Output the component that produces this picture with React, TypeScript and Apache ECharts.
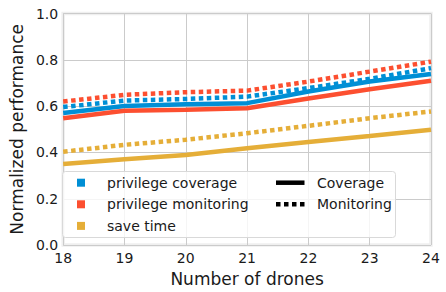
import React, { useEffect, useRef } from "react";
import * as echarts from "echarts";

const drones = [18, 19, 20, 21, 22, 23, 24];
const yTicks = [0, 0.2, 0.4, 0.6, 0.8, 1.0];
const categoryNames = ["privilege coverage", "privilege monitoring", "save time"];
const styleNames = ["Coverage", "Monitoring"];
const coveragePrivCov = [0.570, 0.601, 0.608, 0.613, 0.663, 0.706, 0.739];
const coveragePrivMon = [0.548, 0.580, 0.584, 0.591, 0.633, 0.673, 0.710];
const coverageSaveTime = [0.350, 0.371, 0.389, 0.418, 0.445, 0.471, 0.498];
const monitoringPrivCov = [0.596, 0.624, 0.631, 0.641, 0.678, 0.718, 0.764];
const monitoringPrivMon = [0.620, 0.649, 0.660, 0.667, 0.706, 0.749, 0.792];
const monitoringSaveTime = [0.403, 0.433, 0.455, 0.483, 0.515, 0.548, 0.577];

const COLORS = ["#008fd5", "#fc4f30", "#e5ae38"];
const FONT = "DejaVu Sans";
const TXT = "#1a1a1a";
const DOT: number[] = [4.5, 3.5];
const LW = 4.5;
const DOTTED_ICON =
  "path://M0,0h4.5v4.5h-4.5z M8,0h4.5v4.5h-4.5z M16,0h4.5v4.5h-4.5z M24,0h4.5v4.5h-4.5z";

export default function App() {
  const ref = useRef<HTMLDivElement>(null);
  useEffect(() => {
    if (!ref.current) return;
    const chart = echarts.init(ref.current, null, { renderer: "svg" });
    const toPts = (arr: number[]) => drones.map((d, i) => [d, arr[i]]);
    const coverageSets = [coveragePrivCov, coveragePrivMon, coverageSaveTime];
    const monitoringSets = [monitoringPrivCov, monitoringPrivMon, monitoringSaveTime];
    const series: any[] = [];
    categoryNames.forEach((name, i) => {
      series.push({
        type: "line",
        name,
        data: toPts(coverageSets[i]),
        symbol: "none",
        showSymbol: false,
        color: COLORS[i],
        lineStyle: { color: COLORS[i], width: LW, type: "solid" },
        z: 2,
      });
    });
    categoryNames.forEach((name, i) => {
      series.push({
        type: "line",
        name: name + " (Monitoring)",
        data: toPts(monitoringSets[i]),
        symbol: "none",
        showSymbol: false,
        color: COLORS[i],
        lineStyle: { color: COLORS[i], width: LW, type: DOT },
        z: 2,
      });
    });
    series.push({
      type: "line",
      name: styleNames[0],
      data: [],
      symbol: "none",
      color: "#000",
      lineStyle: { color: "#000", width: LW, type: "solid" },
    });
    series.push({
      type: "line",
      name: styleNames[1],
      data: [],
      symbol: "none",
      color: "#000",
      lineStyle: { color: "#000", width: LW, type: DOT },
    });

    const axisLabel = { fontSize: 14, color: TXT, fontFamily: FONT };
    chart.setOption({
      animation: false,
      textStyle: { fontFamily: FONT },
      grid: {
        left: 55.5,
        right: 15,
        top: 13.5,
        bottom: 46.5,
        show: true,
        backgroundColor: "#ffffff",
        borderColor: "#efefef",
        borderWidth: 3.5,
      },
      xAxis: {
        type: "value",
        min: 18,
        max: 24,
        interval: 1,
        name: "Number of drones",
        nameLocation: "middle",
        nameGap: 20,
        nameTextStyle: { fontSize: 17, color: TXT, fontFamily: FONT },
        axisLine: { show: false },
        axisTick: { show: false },
        axisLabel: { ...axisLabel, margin: 6 },
        splitLine: { show: true, lineStyle: { color: "#cbcbcb", width: 1 } },
      },
      yAxis: {
        type: "value",
        min: yTicks[0],
        max: yTicks[yTicks.length - 1],
        interval: 0.2,
        name: "Normalized performance",
        nameLocation: "middle",
        nameGap: 31,
        nameTextStyle: { fontSize: 17, color: TXT, fontFamily: FONT },
        axisLine: { show: false },
        axisTick: { show: false },
        axisLabel: { ...axisLabel, margin: 5, formatter: (v: number) => v.toFixed(1) },
        splitLine: { show: true, lineStyle: { color: "#cbcbcb", width: 1 } },
      },
      graphic: [
        {
          type: "rect",
          z: 3,
          shape: { x: 62.5, y: 171.5, width: 333, height: 66, r: 3 },
          style: { fill: "rgba(255,255,255,0.8)", stroke: "#d9d9d9", lineWidth: 1 },
        },
      ],
      legend: [
        {
          data: categoryNames,
          orient: "vertical",
          left: 77,
          top: 175.7,
          padding: 0,
          itemGap: 7.6,
          itemWidth: 8,
          itemHeight: 8,
          icon: "rect",
          selectedMode: false,
          z: 5,
          itemStyle: { borderWidth: 0 },
          textStyle: { fontSize: 14, color: TXT, fontFamily: FONT, padding: [0, 0, 0, 17] },
        },
        {
          data: [
            { name: styleNames[0], icon: "rect" },
            { name: styleNames[1], icon: DOTTED_ICON },
          ],
          orient: "vertical",
          left: 276,
          top: 175.7,
          padding: 0,
          itemGap: 7.6,
          itemWidth: 28.5,
          itemHeight: 4.5,
          selectedMode: false,
          z: 5,
          itemStyle: { color: "#000", borderWidth: 0 },
          textStyle: { fontSize: 14, color: TXT, fontFamily: FONT, padding: [0, 0, 0, 7.5] },
        },
      ],
      series,
    });
    return () => chart.dispose();
  }, []);
  return (
    <div
      ref={ref}
      style={{ position: "fixed", left: 0, top: 0, width: 446, height: 292, background: "#fff" }}
    />
  );
}
